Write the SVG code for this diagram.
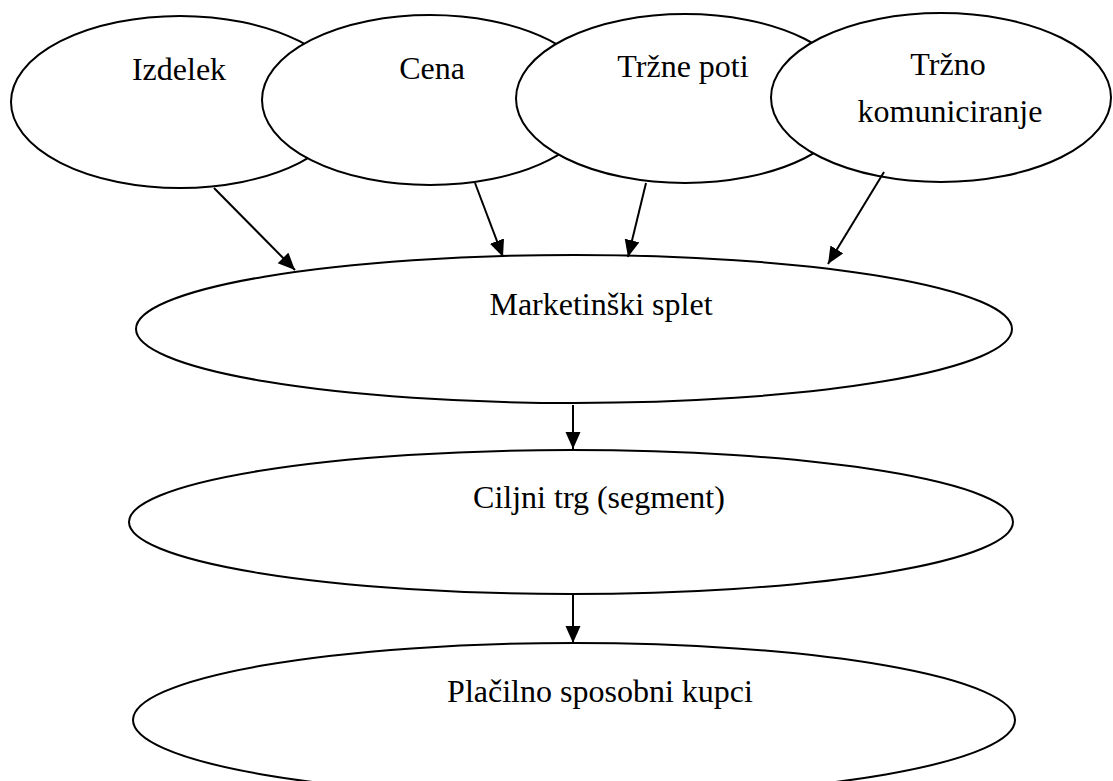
<svg xmlns="http://www.w3.org/2000/svg" width="1113" height="781" viewBox="0 0 1113 781">
<defs>
<style>
.node ellipse{fill:#fff;stroke:#000;stroke-width:2}
.node text{font-family:"Liberation Serif","Times New Roman",serif;font-size:32px;fill:#000;text-anchor:middle}
.conn line{stroke:#000;stroke-width:2}
</style>
<marker id="ah" markerUnits="userSpaceOnUse" markerWidth="18" markerHeight="16" refX="17" refY="7.5" orient="auto">
<path d="M0,0 L17,7.5 L0,15 z" fill="#000"/>
</marker>
</defs>
<rect width="1113" height="781" fill="#fff"/>
<g id="izdelek" class="node">
<ellipse cx="180" cy="102" rx="169" ry="86"/>
<text x="179" y="80">Izdelek</text>
</g>
<g id="cena" class="node">
<ellipse cx="430" cy="100" rx="168" ry="85"/>
<text x="432" y="79">Cena</text>
</g>
<g id="trzne-poti" class="node">
<ellipse cx="685" cy="98.5" rx="169" ry="84.5"/>
<text x="683" y="77">Tržne poti</text>
</g>
<g id="trzno-komuniciranje" class="node">
<ellipse cx="941" cy="97.5" rx="170" ry="84.5"/>
<text x="948" y="75">Tržno</text>
<text x="950" y="122">komuniciranje</text>
</g>
<g id="marketinski-splet" class="node">
<ellipse cx="574" cy="329" rx="438" ry="74"/>
<text x="601" y="315">Marketinški splet</text>
</g>
<g id="ciljni-trg" class="node">
<ellipse cx="571" cy="522" rx="442" ry="72"/>
<text x="599" y="508">Ciljni trg (segment)</text>
</g>
<g id="placilno-sposobni" class="node">
<ellipse cx="574" cy="720" rx="441" ry="77"/>
<text x="600" y="702">Plačilno sposobni kupci</text>
</g>
<g id="connectors" class="conn">
<line x1="214" y1="188" x2="295" y2="270" marker-end="url(#ah)"/>
<line x1="475" y1="183" x2="503" y2="257" marker-end="url(#ah)"/>
<line x1="646" y1="183" x2="628" y2="257" marker-end="url(#ah)"/>
<line x1="884" y1="172" x2="828" y2="264" marker-end="url(#ah)"/>
<line x1="573" y1="405" x2="573" y2="449" marker-end="url(#ah)"/>
<line x1="573" y1="595" x2="573" y2="643" marker-end="url(#ah)"/>
</g>
</svg>
